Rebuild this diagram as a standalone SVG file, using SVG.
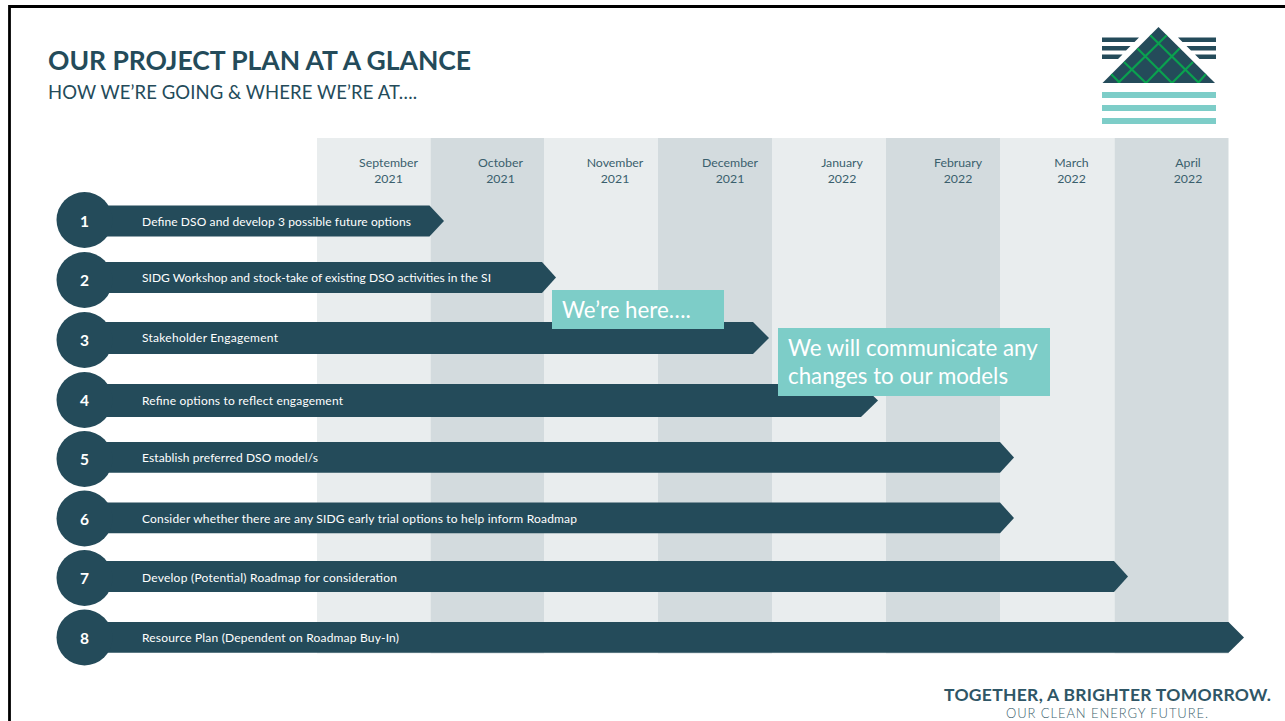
<svg xmlns="http://www.w3.org/2000/svg" width="1285" height="721" viewBox="0 0 1285 721">
<style>
text{font-family:"Lato","Carlito","Open Sans",sans-serif}
.bar{fill:#244b5a}
.lab{fill:#fff;font-size:12px}
.num{fill:#fff;font-size:15.500px;font-weight:700;text-anchor:middle}
.mon{fill:#3a5f6d;font-size:12.300px;text-anchor:middle}
.call{fill:#7dcdc8}
.ct{fill:#fff;font-size:22.300px}
.a{fill:#e9edee}.b{fill:#d3dbde}
.g{stroke:#0aa14f;stroke-width:2.200;fill:none}
</style>
<defs><clipPath id="tri"><path d="M1158.500 27L1215 83H1102.500Z"/></clipPath></defs>
<rect width="1285" height="721" fill="#fff"/>
<path d="M9.500 721V6.500H1285" fill="none" stroke="#000" stroke-width="2.800"/>
<g id="title">
<text x="48" y="70" font-size="26.500" font-weight="700" fill="#244b5a" textLength="423">OUR PROJECT PLAN AT A GLANCE</text>
<text x="48" y="99" font-size="18.500" fill="#244b5a" textLength="369">HOW WE’RE GOING &amp; WHERE WE’RE AT….</text>
</g>
<g id="logo">
<path fill="#244b5a" d="M1102 37.500H1139L1134.500 42H1102ZM1102 46H1130.500L1126 50.500H1102ZM1102 54.500H1122.500L1118 59H1102ZM1178 37.500H1216V42H1182.500ZM1186.500 46H1216V50.500H1191ZM1195 54.500H1216V59H1199.500Z"/>
<path fill="#244b5a" d="M1158.500 27L1215 83H1102.500Z"/>
<g clip-path="url(#tri)"><path class="g" d="M1150 35L1199 83M1137 48L1172 83M1124 62L1146 83M1111 74L1120 83M1167 35L1118 83M1180 48L1146 83M1193 62L1172 83M1206 74L1198 83"/></g>
<path fill="#7dcdc8" d="M1102 92H1216V98H1102ZM1102 105H1216V111H1102ZM1102 118H1216V124H1102Z"/>
</g>
<g id="timeline">
<rect class="a" x="317" y="138" width="113.500" height="515.500"/><rect class="b" x="430.500" y="138" width="113.500" height="515.500"/>
<rect class="a" x="544" y="138" width="114" height="515.500"/><rect class="b" x="658" y="138" width="114" height="515.500"/>
<rect class="a" x="772" y="138" width="114" height="515.500"/><rect class="b" x="886" y="138" width="114.500" height="515.500"/>
<rect class="a" x="1000.500" y="138" width="114" height="515.500"/><rect class="b" x="1114.500" y="138" width="114" height="515.500"/>
<text class="mon" x="388.500" y="167">September</text><text class="mon" x="388.500" y="183">2021</text>
<text class="mon" x="500.500" y="167">October</text><text class="mon" x="500.500" y="183">2021</text>
<text class="mon" x="615" y="167">November</text><text class="mon" x="615" y="183">2021</text>
<text class="mon" x="730" y="167">December</text><text class="mon" x="730" y="183">2021</text>
<text class="mon" x="842" y="167">January</text><text class="mon" x="842" y="183">2022</text>
<text class="mon" x="958" y="167">February</text><text class="mon" x="958" y="183">2022</text>
<text class="mon" x="1071.500" y="167">March</text><text class="mon" x="1071.500" y="183">2022</text>
<text class="mon" x="1188" y="167">April</text><text class="mon" x="1188" y="183">2022</text>
</g>
<g id="connectors"></g>
<g id="step1"><path class="bar" d="M100 205.500H429.500L444 221L429.500 236.500H100Z"/><circle class="bar" cx="84.500" cy="220" r="28"/><text class="num" x="84.500" y="227">1</text><text class="lab" x="142" y="226" textLength="269">Define DSO and develop 3 possible future options</text></g>
<g id="step2"><path class="bar" d="M100 262H542L556 277.500L542 293H100Z"/><circle class="bar" cx="84.500" cy="280" r="28"/><text class="num" x="84.500" y="286">2</text><text class="lab" x="142" y="282" textLength="349">SIDG Workshop and stock-take of existing DSO activities in the SI</text></g>
<g id="step3"><path class="bar" d="M100 322H753L769 338L753 354H100Z"/><circle class="bar" cx="84.500" cy="340" r="28"/><text class="num" x="84.500" y="346">3</text><text class="lab" x="142" y="342" textLength="136">Stakeholder Engagement</text></g>
<g id="step4"><path class="bar" d="M100 384H861L878 400.500L861 417H100Z"/><circle class="bar" cx="84.500" cy="400" r="28"/><text class="num" x="84.500" y="406">4</text><text class="lab" x="142" y="405" textLength="201">Refine options to reflect engagement</text></g>
<g id="step5"><path class="bar" d="M100 442H1000L1014 457.500L1000 472.700H100Z"/><circle class="bar" cx="84.500" cy="459" r="28"/><text class="num" x="84.500" y="465">5</text><text class="lab" x="142" y="462" textLength="176">Establish preferred DSO model/s</text></g>
<g id="step6"><path class="bar" d="M100 502.500H1000L1014 518L1000 533.300H100Z"/><circle class="bar" cx="84.500" cy="518.500" r="28"/><text class="num" x="84.500" y="524.500">6</text><text class="lab" x="142" y="523" textLength="435">Consider whether there are any SIDG early trial options to help inform Roadmap</text></g>
<g id="step7"><path class="bar" d="M100 561H1114L1128 576.500L1114 592H100Z"/><circle class="bar" cx="84.500" cy="578" r="28"/><text class="num" x="84.500" y="584">7</text><text class="lab" x="142" y="581.500" textLength="255">Develop (Potential) Roadmap for consideration</text></g>
<g id="step8"><path class="bar" d="M100 622H1228.500L1244 637.500L1228.500 652.700H100Z"/><circle class="bar" cx="84.500" cy="637.500" r="28"/><text class="num" x="84.500" y="644">8</text><text class="lab" x="142" y="642" textLength="257">Resource Plan (Dependent on Roadmap Buy-In)</text></g>
<g id="here"><rect class="call" x="552" y="290" width="172" height="39"/><text class="ct" x="562" y="318">We’re here….</text></g>
<g id="note"><rect class="call" x="778" y="328" width="272" height="68"/><text class="ct" x="788" y="355.500">We will communicate any</text><text class="ct" x="788" y="384">changes to our models</text></g>
<g id="footer">
<text x="944" y="701" font-size="17.500" font-weight="700" fill="#2f5666" textLength="327">TOGETHER, A BRIGHTER TOMORROW.</text>
<text x="1006" y="718" font-size="13" font-weight="300" fill="#3d5f6e" textLength="202">OUR CLEAN ENERGY FUTURE.</text>
</g>
</svg>
